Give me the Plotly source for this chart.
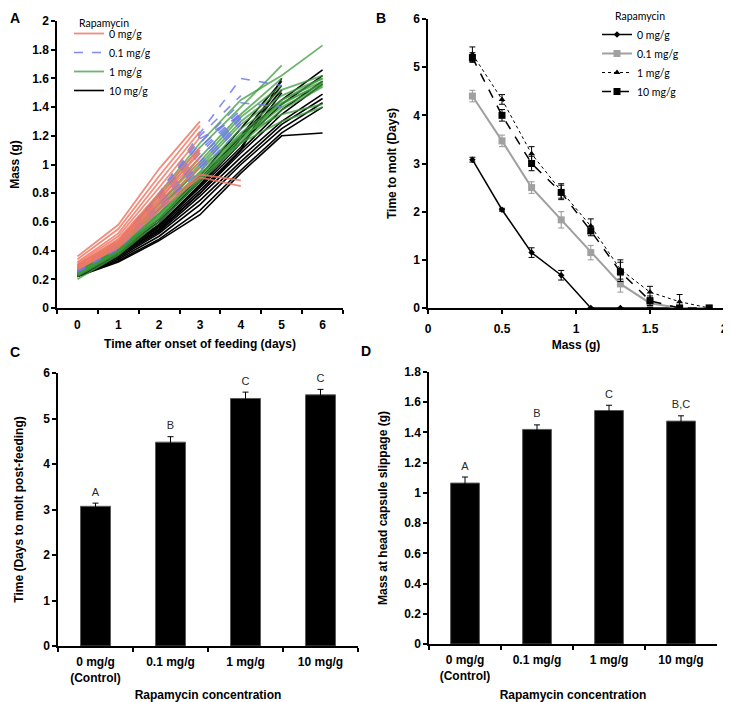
import plotly.graph_objects as go

# ---------------- Panel A data: individual growth curves (mass, g) per day ----------------
days = [0, 1, 2, 3, 4, 5, 6]

red_curves = [
    [0.36, 0.58, 0.97, 1.30],
    [0.34, 0.55, 0.92, 1.27],
    [0.32, 0.52, 0.88, 1.23],
    [0.31, 0.50, 0.84, 1.19],
    [0.30, 0.48, 0.80, 1.12],
    [0.30, 0.47, 0.78, 1.08],
    [0.29, 0.46, 0.76, 1.05],
    [0.28, 0.45, 0.74, 1.02],
    [0.28, 0.44, 0.72, 0.98],
    [0.27, 0.43, 0.70, 0.93, 0.89],
    [0.27, 0.42, 0.68, 0.91, 0.85],
    [0.30, 0.46, 0.75, 1.10],
]
blue_curves = [
    [0.29, 0.47, 0.80, 1.22, 1.60, 1.55],
    [0.28, 0.46, 0.78, 1.20, 1.48],
    [0.28, 0.45, 0.77, 1.15, 1.43, 1.40],
    [0.28, 0.45, 0.76, 1.12, 1.38],
    [0.27, 0.44, 0.74, 1.10, 1.36],
    [0.27, 0.44, 0.73, 1.08, 1.35],
    [0.27, 0.43, 0.72, 1.05, 1.33],
    [0.26, 0.43, 0.71, 1.02, 1.32],
    [0.26, 0.42, 0.70, 1.00, 1.30],
    [0.26, 0.42, 0.69, 0.98, 1.28],
    [0.25, 0.41, 0.68, 0.96, 1.25],
    [0.28, 0.46, 0.78, 1.18, 1.34],
]
green_curves = [
    [0.26, 0.45, 0.80, 1.15, 1.45, 1.62, 1.83],
    [0.27, 0.46, 0.78, 1.12, 1.40, 1.69],
    [0.25, 0.43, 0.72, 1.05, 1.35, 1.60],
    [0.25, 0.42, 0.70, 1.00, 1.30, 1.52, 1.62],
    [0.24, 0.41, 0.68, 0.98, 1.28, 1.48, 1.60],
    [0.24, 0.40, 0.66, 0.95, 1.25, 1.45, 1.58],
    [0.23, 0.40, 0.65, 0.93, 1.22, 1.43, 1.56],
    [0.23, 0.39, 0.64, 0.92, 1.20, 1.42, 1.57],
    [0.22, 0.38, 0.62, 0.90, 1.18, 1.40, 1.55],
    [0.20, 0.37, 0.60, 0.88, 1.15, 1.38, 1.54],
    [0.25, 0.42, 0.69, 0.98, 1.20, 1.35, 1.42],
    [0.24, 0.41, 0.66, 0.94, 1.15, 1.30, 1.40],
    [0.26, 0.44, 0.73, 1.02, 1.33, 1.55],
    [0.23, 0.39, 0.63, 0.90, 1.16, 1.45, 1.60],
]
black_curves = [
    [0.25, 0.40, 0.60, 0.90, 1.20, 1.45, 1.66],
    [0.25, 0.39, 0.58, 0.85, 1.15, 1.42, 1.62],
    [0.24, 0.38, 0.56, 0.82, 1.10, 1.38, 1.58],
    [0.24, 0.37, 0.55, 0.80, 1.08, 1.35, 1.56],
    [0.23, 0.36, 0.53, 0.78, 1.05, 1.30, 1.49],
    [0.23, 0.35, 0.52, 0.75, 1.02, 1.28, 1.46],
    [0.22, 0.34, 0.50, 0.72, 1.00, 1.25, 1.43],
    [0.22, 0.33, 0.48, 0.68, 0.96, 1.22, 1.40],
    [0.22, 0.32, 0.47, 0.65, 0.94, 1.20, 1.22],
    [0.26, 0.41, 0.62, 0.92, 1.25, 1.58],
    [0.25, 0.40, 0.60, 0.88, 1.20, 1.55],
    [0.24, 0.38, 0.57, 0.84, 1.12, 1.50],
    [0.23, 0.37, 0.54, 0.80, 1.10, 1.60],
    [0.24, 0.38, 0.58, 0.86, 1.18, 1.52],
]

# ---------------- Panel B data: time to molt vs mass ----------------
mass_bins = [0.3, 0.5, 0.7, 0.9, 1.1, 1.3, 1.5, 1.7, 1.9]
molt_0 = [3.08, 2.04, 1.15, 0.68, 0.0, 0.0, 0.0, 0.0, 0.0]
molt_0_err = [0.05, 0.03, 0.10, 0.10, 0.0, 0.0, 0.0, 0.0, 0.0]
molt_01 = [4.40, 3.47, 2.50, 1.83, 1.15, 0.50, 0.10, 0.0, 0.0]
molt_01_err = [0.12, 0.12, 0.12, 0.17, 0.15, 0.17, 0.07, 0.0, 0.0]
molt_1 = [5.27, 4.33, 3.20, 2.43, 1.70, 0.80, 0.33, 0.13, 0.0]
molt_1_err = [0.15, 0.10, 0.15, 0.15, 0.15, 0.20, 0.12, 0.15, 0.0]
molt_10 = [5.20, 4.00, 3.00, 2.40, 1.60, 0.75, 0.15, 0.0, 0.0]
molt_10_err = [0.10, 0.12, 0.15, 0.15, 0.10, 0.20, 0.10, 0.0, 0.0]

# ---------------- Panels C & D data ----------------
conc_labels = ["0 mg/g<br>(Control)", "0.1 mg/g", "1 mg/g", "10 mg/g"]
time_to_molt = [3.07, 4.48, 5.44, 5.52]
time_to_molt_err = [0.07, 0.12, 0.14, 0.12]
time_letters = ["A", "B", "C", "C"]
slip_mass = [1.065, 1.42, 1.545, 1.475]
slip_mass_err = [0.04, 0.03, 0.035, 0.035]
slip_letters = ["A", "B", "C", "B,C"]

# The page body has an 8 px margin; size the figure so it fills the window exactly.
OFF = 8
W, H = 731 - OFF, 702 - OFF
def px(x0, x1):
    return [(x0 - OFF) / W, (x1 - OFF) / W]
def py(ytop, ybot):
    return [1 - (ybot - OFF) / H, 1 - (ytop - OFF) / H]
def pxx(x):
    return (x - OFF) / W
def pyy(y):
    return 1 - (y - OFF) / H

FAM = "Liberation Sans, Arial, sans-serif"
TICKFONT = dict(family=FAM, size=12, color="black", weight="bold")
TITLEFONT = dict(family=FAM, size=12, color="black", weight="bold")
LEGFONT = dict(family="Lato, Carlito, sans-serif", size=10.5, color="black")
LETTERFONT = dict(family=FAM, size=11, color="rgb(40,40,40)")
LABELFONT = dict(family=FAM, size=14, color="black", weight="bold")

fig = go.Figure()

# ---- Panel A traces ----
groups = [
    ("10 mg/g", black_curves, dict(color="black", width=1.6, dash="solid"), 4),
    ("1 mg/g", green_curves, dict(color="rgba(60,155,60,0.75)", width=1.8, dash="solid"), 3),
    ("0.1 mg/g", blue_curves, dict(color="rgba(110,120,240,0.85)", width=1.6, dash="dash"), 2),
    ("0 mg/g", red_curves, dict(color="rgba(240,120,100,0.85)", width=1.8, dash="solid"), 1),
]
for name, curves, line, rank in groups:
    for i, c in enumerate(curves):
        fig.add_trace(go.Scatter(
            x=days[:len(c)], y=c, mode="lines", line=line, name=name,
            showlegend=(i == 0), legendrank=rank,
            xaxis="x", yaxis="y", legend="legend"))

# ---- Panel B traces ----
b_series = [
    ("0 mg/g", molt_0, molt_0_err, "black", dict(color="black", width=1.5, dash="solid"), dict(symbol="diamond", size=5, color="black")),
    ("0.1 mg/g", molt_01, molt_01_err, "rgb(150,150,150)", dict(color="rgb(160,160,160)", width=2, dash="solid"), dict(symbol="square", size=7, color="rgb(160,160,160)")),
    ("1 mg/g", molt_1, molt_1_err, "black", dict(color="black", width=1, dash="dot"), dict(symbol="triangle-up", size=6, color="black")),
    ("10 mg/g", molt_10, molt_10_err, "black", dict(color="black", width=1.5, dash="dash"), dict(symbol="square", size=7, color="black")),
]
for name, yv, ev, ecol, line, marker in b_series:
    fig.add_trace(go.Scatter(
        x=mass_bins, y=yv, mode="lines+markers", name=name, line=line, marker=marker,
        error_y=dict(type="data", array=ev, color=ecol, thickness=1, width=3),
        xaxis="x2", yaxis="y2", legend="legend2"))

# ---- Panel C ----
fig.add_trace(go.Bar(
    x=conc_labels, y=time_to_molt, width=0.4,
    marker=dict(color="black", line=dict(color="rgb(90,90,90)", width=1)),
    error_y=dict(type="data", array=time_to_molt_err, color="black", thickness=1, width=3),
    showlegend=False, xaxis="x3", yaxis="y3"))
fig.add_trace(go.Scatter(
    x=conc_labels, y=[v + e for v, e in zip(time_to_molt, time_to_molt_err)],
    mode="markers+text", text=time_letters, textposition="top center", cliponaxis=False,
    marker=dict(size=6, opacity=0), textfont=LETTERFONT, hoverinfo="skip",
    showlegend=False, xaxis="x3", yaxis="y3"))

# ---- Panel D ----
fig.add_trace(go.Bar(
    x=conc_labels, y=slip_mass, width=0.4,
    marker=dict(color="black", line=dict(color="rgb(90,90,90)", width=1)),
    error_y=dict(type="data", array=slip_mass_err, color="black", thickness=1, width=3),
    showlegend=False, xaxis="x4", yaxis="y4"))
fig.add_trace(go.Scatter(
    x=conc_labels, y=[v + e for v, e in zip(slip_mass, slip_mass_err)],
    mode="markers+text", text=slip_letters, textposition="top center", cliponaxis=False,
    marker=dict(size=6, opacity=0), textfont=LETTERFONT, hoverinfo="skip",
    showlegend=False, xaxis="x4", yaxis="y4"))

axis_common = dict(showline=True, linecolor="black", linewidth=1.5, ticks="outside",
                   ticklen=4, tickwidth=1.5, tickcolor="black", tickfont=TICKFONT,
                   showgrid=False, zeroline=False, mirror=False, automargin=False)

fig.update_layout(
    width=W, height=H, autosize=False,
    margin=dict(l=0, r=0, t=0, b=0),
    plot_bgcolor="white", paper_bgcolor="white",
    # Panel A axes
    xaxis=dict(**axis_common, domain=px(57, 343), anchor="y", type="category",
               categoryorder="array", categoryarray=days, tickson="boundaries",
               range=[-0.5, 6.5], ticklabelstandoff=5,
               title=dict(text="Time after onset of feeding (days)", font=TITLEFONT, standoff=8)),
    yaxis=dict(**axis_common, domain=py(21, 308), anchor="x", range=[0, 2], dtick=0.2,
               tickformat="~g",
               title=dict(text="Mass (g)", font=TITLEFONT, standoff=12)),
    # Panel B axes
    xaxis2=dict(**axis_common, domain=px(428, 724), anchor="y2", range=[0, 2], dtick=0.5,
                tickformat="~g", ticklabeloverflow="allow", ticklabelstandoff=5,
                title=dict(text="Mass (g)", font=TITLEFONT, standoff=5)),
    yaxis2=dict(**axis_common, domain=py(19, 308), anchor="x2", range=[0, 6], dtick=1,
                title=dict(text="Time to molt (Days)", font=TITLEFONT, standoff=14)),
    # Panel C axes
    xaxis3=dict(**axis_common, domain=px(58, 358), anchor="y3", tickson="boundaries",
                ticklabelstandoff=4,
                title=dict(text="Rapamycin concentration", font=TITLEFONT, standoff=10)),
    yaxis3=dict(**axis_common, domain=py(373, 646), anchor="x3", range=[0, 6], dtick=1,
                title=dict(text="Time (Days to molt post-feeding)", font=TITLEFONT, standoff=17)),
    # Panel D axes
    xaxis4=dict(**axis_common, domain=px(429, 717), anchor="y4", tickson="boundaries",
                ticklabelstandoff=4,
                title=dict(text="Rapamycin concentration", font=TITLEFONT, standoff=10)),
    yaxis4=dict(**axis_common, domain=py(372, 644), anchor="x4", range=[0, 1.8], dtick=0.2,
                tickformat="~g",
                title=dict(text="Mass at head capsule slippage (g)", font=TITLEFONT, standoff=14)),
    legend=dict(x=pxx(69), y=pyy(19), xanchor="left", yanchor="top", font=LEGFONT,
                bgcolor="rgba(0,0,0,0)", traceorder="normal"),
    legend2=dict(x=pxx(597), y=pyy(20), xanchor="left", yanchor="top", font=LEGFONT,
                 bgcolor="rgba(0,0,0,0)", traceorder="normal"),
    annotations=[
        dict(text="Rapamycin", x=pxx(77), y=pyy(23), xref="paper", yref="paper",
             xanchor="left", yanchor="middle", showarrow=False, font=LEGFONT),
        dict(text="Rapamycin", x=pxx(613), y=pyy(16), xref="paper", yref="paper",
             xanchor="left", yanchor="middle", showarrow=False, font=LEGFONT),
        dict(text="A", x=pxx(15), y=pyy(18), xref="paper", yref="paper", xanchor="center", yanchor="middle",
             showarrow=False, font=LABELFONT),
        dict(text="B", x=pxx(381), y=pyy(18), xref="paper", yref="paper", xanchor="center", yanchor="middle",
             showarrow=False, font=LABELFONT),
        dict(text="C", x=pxx(15), y=pyy(352), xref="paper", yref="paper", xanchor="center", yanchor="middle",
             showarrow=False, font=LABELFONT),
        dict(text="D", x=pxx(366), y=pyy(351), xref="paper", yref="paper", xanchor="center", yanchor="middle",
             showarrow=False, font=LABELFONT),
    ],
)

fig.write_html("out.html")
